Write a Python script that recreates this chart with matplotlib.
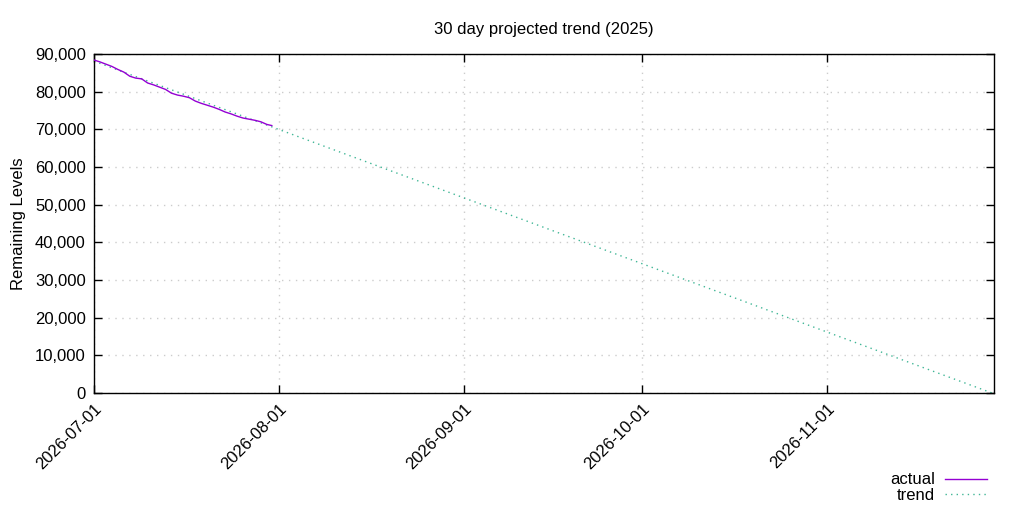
import numpy as np
import pandas as pd
import matplotlib
matplotlib.use('Agg')
import matplotlib.pyplot as plt
import matplotlib.dates as mdates
from matplotlib.ticker import FuncFormatter, MultipleLocator

plt.rcParams['font.family'] = ['Liberation Sans', 'DejaVu Sans']

# actual remaining levels, one reading per day from 2026-07-01
actual_start = '2026-07-01'
actual_values = [88400, 87900, 87300, 86700, 85900, 85200, 84100, 83600,
                 83400, 82300, 81800, 81200, 80600, 79600, 79100, 78800,
                 78400, 77500, 76900, 76400, 75900, 75300, 74600, 74100,
                 73500, 73000, 72700, 72400, 72000, 71300, 71000]

# projected trend line (start and zero crossing)
trend_dates = ['2026-07-01 00:00', '2026-11-28 16:00']
trend_values = [88100, 0]

x_ticks = ['2026-07-01', '2026-08-01', '2026-09-01', '2026-10-01', '2026-11-01']

actual_dates = pd.date_range(actual_start, periods=len(actual_values), freq='D')
actual_dates = actual_dates[:-1].append(pd.DatetimeIndex([actual_dates[-2] + pd.Timedelta(hours=20)]))

fig = plt.figure(figsize=(10.24, 5.12), dpi=100)
ax = fig.add_axes([94/1024, 1 - 393/512, 900/1024, 339/512])

ax.plot(pd.to_datetime(trend_dates), trend_values, color='#009e73', alpha=0.75, lw=1,
        ls=(0, (1, 3)), label='trend', zorder=2)
ax.plot(actual_dates, actual_values, color='#9400d3', lw=1, label='actual', zorder=3)

ax.set_xlim(pd.Timestamp('2026-07-01'), pd.Timestamp('2026-11-29'))
ax.set_ylim(0, 90000)
ax.yaxis.set_major_locator(MultipleLocator(10000))
ax.yaxis.set_major_formatter(FuncFormatter(lambda v, p: f'{int(v):,}'))
ax.set_xticks(pd.to_datetime(x_ticks))
ax.xaxis.set_major_formatter(mdates.DateFormatter('%Y-%m-%d'))
for lab in ax.get_xticklabels():
    lab.set_rotation(45)
    lab.set_ha('right')
    lab.set_rotation_mode('anchor')

ax.tick_params(direction='in', length=6, width=1, top=True, right=True,
               labelsize=12, pad=6)
ax.grid(True, color='#cccccc', ls=(0, (1, 4)), lw=1)
for s in ax.spines.values():
    s.set_linewidth(1)

ax.set_title('30 day projected trend (2025)', fontsize=12, pad=14.5)
ax.set_ylabel('Remaining Levels', fontsize=12, labelpad=6)

handles, labels = ax.get_legend_handles_labels()
ax.legend(handles[::-1], labels[::-1], loc='upper right',
          bbox_to_anchor=(995/1024, 1 - 464/512), bbox_transform=fig.transFigure,
          frameon=False, markerfirst=False, fontsize=12, handlelength=2.5,
          labelspacing=0.05, borderpad=0, handletextpad=0.6)

fig.savefig('out.png', dpi=100)
